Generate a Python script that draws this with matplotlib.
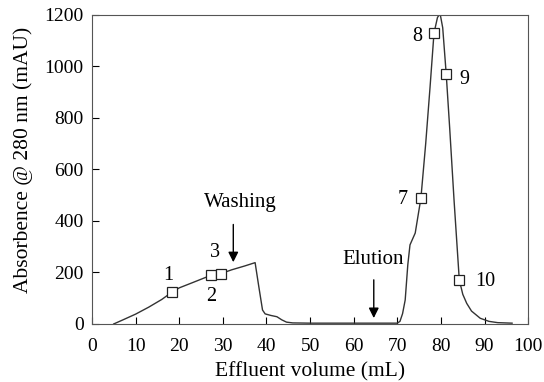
import matplotlib
matplotlib.use("Agg")
import matplotlib.pyplot as plt

plt.rcParams["font.family"] = ["Liberation Serif", "DejaVu Serif"]

## chromatogram trace (mL, mAU)
volume = [5, 7, 10, 13, 16, 18.3, 20, 23, 27.3, 29.5, 32, 35, 37.4,
          38.2, 39.1, 39.7, 41, 42.4, 43.5, 44.6, 46, 50, 55, 60, 65, 70,
          70.6, 71.2, 71.8, 72.4, 72.9, 74.1, 75.4, 76.5, 77.5, 78.4, 79.2,
          79.8, 80.4, 81.2, 82, 83, 84.2, 85, 85.9, 87, 89, 91, 93, 96.3]
absorb = [0, 15, 38, 65, 95, 123, 140, 160, 189, 195, 210, 225, 238,
          150, 54, 39, 33, 28, 16, 7, 4, 3, 3, 3, 3, 3,
          10, 40, 93, 230, 307, 353, 488, 700, 920, 1129, 1190,
          1205, 1150, 971, 760, 480, 171, 115, 80, 50, 22, 10, 5, 3]

## collected fractions
frac_x = [18.3, 27.3, 29.5, 75.4, 78.4, 81.2, 84.2]
frac_y = [123, 189, 195, 488, 1129, 971, 171]
frac_labels = ["1", "2", "3", "7", "8", "9", "10"]
label_x = [17.5, 27.4, 28.2, 71.2, 74.5, 85.3, 90.1]
label_y = [190, 106, 277, 485, 1116, 951, 164]

fig = plt.figure(figsize=(5.44, 3.82), dpi=100)
ax = fig.add_axes([0.169, 0.152, 0.802, 0.809])

ax.plot(volume, absorb, color="#333333", lw=1.0)
ax.plot(frac_x, frac_y, "s", ms=7.5, mfc="white", mec="#222222", mew=0.9)
for lx, ly, t in zip(label_x, label_y, frac_labels):
    ax.text(lx, ly, t, fontsize=14.5, ha="center", va="center")

arrow = dict(arrowstyle="-|>", color="black", lw=1.0, mutation_scale=15)
ax.annotate("", xy=(32.4, 229), xytext=(32.4, 397), arrowprops=arrow)
ax.text(34, 473, "Washing", fontsize=15, ha="center", va="center")
ax.annotate("", xy=(64.6, 12), xytext=(64.6, 182), arrowprops=arrow)
ax.text(64.4, 249, "Elution", fontsize=15, ha="center", va="center")

ax.set_xlim(0, 100)
ax.set_ylim(0, 1200)
ax.set_xticks(range(0, 101, 10))
ax.set_yticks(range(0, 1201, 200))
ax.tick_params(direction="in", length=5, labelsize=14, colors="black")
ax.tick_params(axis="x", pad=10)
ax.tick_params(axis="y", pad=6)
for s in ax.spines.values():
    s.set_color("#555555")
ax.set_xlabel("Effluent volume (mL)", fontsize=15.5, labelpad=5)
ax.set_ylabel("Absorbence @ 280 nm (mAU)", fontsize=15.5)
ax.yaxis.set_label_coords(-0.135, 0.53)

fig.savefig("out.png", dpi=100)
